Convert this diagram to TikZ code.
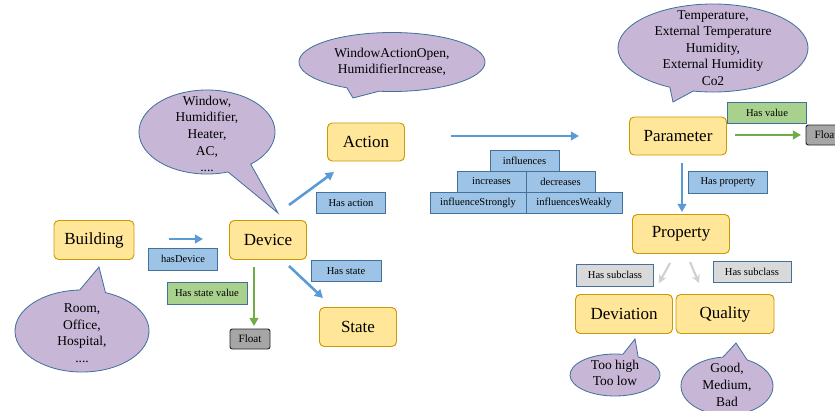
\documentclass[tikz,border=0pt]{standalone}
\usepackage{fontspec}
\setmainfont{Liberation Serif}
\usepackage{tikz}
\usetikzlibrary{arrows.meta}
\definecolor{boxfill}{RGB}{255,230,153}
\definecolor{boxline}{RGB}{204,153,0}
\definecolor{bubblefill}{RGB}{199,182,214}
\definecolor{bubbleline}{RGB}{65,113,156}
\definecolor{relfill}{RGB}{157,195,230}
\definecolor{valfill}{RGB}{169,209,142}
\definecolor{subfill}{RGB}{217,217,217}
\definecolor{floatfill}{RGB}{166,166,166}
\definecolor{flowblue}{RGB}{91,155,213}
\definecolor{flowgreen}{RGB}{112,173,71}
\definecolor{flowgray}{RGB}{208,208,208}
\newcommand{\px}{0.03cm}

\begin{document}
\begin{tikzpicture}[x=\px, y=-\px,
	concept/.style={draw=boxline, fill=boxfill, rounded corners=4pt, line width=0.8pt, inner sep=0pt,
		minimum width=77*\px, minimum height=39*\px, font=\fontsize{14.5}{16}\selectfont},
	rel/.style={draw=bubbleline, fill=relfill, line width=0.7pt, inner sep=0pt,
		minimum width=69*\px, minimum height=21*\px, font=\fontsize{9}{10}\selectfont},
	val/.style={rel, fill=valfill},
	sub/.style={rel, fill=subfill},
	floatbox/.style={draw=black!85, fill=floatfill, rounded corners=2pt, line width=0.8pt, inner sep=0pt,
		minimum width=40*\px, minimum height=20*\px, font=\fontsize{9.5}{10}\selectfont},
	bubble/.style={draw=bubbleline, fill=bubblefill, line width=0.7pt},
	note/.style={align=center, inner sep=0pt, font=\fontsize{11.5}{14.2}\selectfont},
	flow/.style={draw=flowblue, line width=2.2pt, -{Triangle[length=7pt,width=7.5pt]}},
	valueflow/.style={flow, draw=flowgreen},
	subflow/.style={draw=flowgray, line width=1.8pt, -{Stealth[length=7pt,width=7pt]}}]
	
	\useasboundingbox (0,0) rectangle (835,410);
	\clip (0,0) rectangle (835,410);
	
	% speech bubbles
	\draw[bubble] (278,213) -- ([shift={(72:68 and 42)}]207,132) arc[start angle=72, end angle=410, x radius=68, y radius=42] -- cycle;
	\draw[bubble] (99,267) -- ([shift={(268:67 and 41)}]82,331) arc[start angle=268, end angle=-69.5, x radius=67, y radius=41] -- cycle;
	\draw[bubble] (353,98) -- ([shift={(119:93 and 29.5)}]392,62) arc[start angle=119, end angle=458, x radius=93, y radius=29.5] -- cycle;
	\draw[bubble] (673,102) -- ([shift={(117:95 and 44)}]713,48) arc[start angle=117, end angle=462, x radius=95, y radius=44] -- cycle;
	\draw[bubble] (635,339) -- ([shift={(280:45 and 21)}]615,375) arc[start angle=280, end angle=-59, x radius=45, y radius=21] -- cycle;
	\draw[bubble] (736,343) -- ([shift={(265:46 and 29)}]727,386) arc[start angle=265, end angle=-64, x radius=46, y radius=29] -- cycle;
	
	\node[note] (devicenote) at (207,134) {Window,\\Humidifier,\\Heater,\\AC,\\....};
	\node[note] (buildingnote) at (82,333) {Room,\\Office,\\Hospital,\\....};
	\node[note] (actionnote) at (392,62) {WindowActionOpen,\\HumidifierIncrease,};
	\node[note] (parameternote) at (713,48) {Temperature,\\External Temperature\\Humidity,\\External Humidity\\Co2};
	\node[note] (deviationnote) at (615,373) {Too high\\Too low};
	\node[note] (qualitynote) at (727,385) {Good,\\Medium,\\Bad};
	
	% concepts
	\node[concept, minimum width=80*\px] (building) at (94,240) {Building};
	\node[concept] (device) at (268,240) {Device};
	\node[concept, minimum height=38*\px] (action) at (366,142) {Action};
	\node[concept] (state) at (358,327) {State};
	\node[concept, minimum width=97*\px, minimum height=38*\px] (parameter) at (678,136) {Parameter};
	\node[concept, minimum width=97*\px] (property) at (681,234) {Property};
	\node[concept, minimum width=97*\px] (deviation) at (624,314) {Deviation};
	\node[concept, minimum width=98*\px] (quality) at (725,314) {Quality};
	\node[floatbox] (devicefloat) at (250,339) {Float};
	\node[floatbox] (parameterfloat) at (826,135) {Float};
	
	% relation labels
	\node[rel] (hasaction) at (351,203) {Has action};
	\node[rel, minimum height=22*\px] (hasdevice) at (183,259) {hasDevice};
	\node[rel, minimum width=70*\px] (hasstate) at (346,271) {Has state};
	\node[val, minimum width=80*\px, minimum height=22*\px] (hasstatevalue) at (207,293) {Has state value};
	\node[val, minimum width=79*\px] (hasvalue) at (767,113) {Has value};
	\node[rel, minimum width=79*\px, minimum height=22*\px] (hasproperty) at (728,182) {Has property};
	\node[sub, minimum width=77*\px, minimum height=22*\px] (subclassleft) at (615,275) {Has subclass};
	\node[sub, minimum width=78*\px] (subclassright) at (752,272) {Has subclass};
	\node[rel] (influences) at (524.5,160.5) {influences};
	\node[rel] (increases) at (491.5,181.5) {increases};
	\node[rel] (decreases) at (560.5,181.5) {decreases};
	\node[rel, minimum width=96*\px] (strongly) at (478,202.5) {influenceStrongly};
	\node[rel, minimum width=96*\px] (weakly) at (574,202.5) {influencesWeakly};
	
	% arrow ends
	\coordinate (bd1) at (169,239); \coordinate (bd2) at (203,239);
	\coordinate (da1) at (289,205); \coordinate (da2) at (334,172);
	\coordinate (ds1) at (289,266); \coordinate (ds2) at (323,298);
	\coordinate (df1) at (254,267); \coordinate (df2) at (254,326);
	\coordinate (ap1) at (451,136); \coordinate (ap2) at (579,136);
	\coordinate (pf1) at (735,135); \coordinate (pf2) at (801,135);
	\coordinate (pp1) at (682,163); \coordinate (pp2) at (682,212);
	\coordinate (sl1) at (670,263); \coordinate (sl2) at (659,283);
	\coordinate (sr1) at (690,262); \coordinate (sr2) at (699,283);
	
	\draw[flow] (bd1) -- (bd2);
	\draw[flow] (da1) -- (da2);
	\draw[flow] (ds1) -- (ds2);
	\draw[valueflow] (df1) -- (df2);
	\draw[flow] (ap1) -- (ap2);
	\draw[valueflow] (pf1) -- (pf2);
	\draw[flow] (pp1) -- (pp2);
	\draw[subflow] (sl1) -- (sl2);
	\draw[subflow] (sr1) -- (sr2);
\end{tikzpicture}
\end{document}
